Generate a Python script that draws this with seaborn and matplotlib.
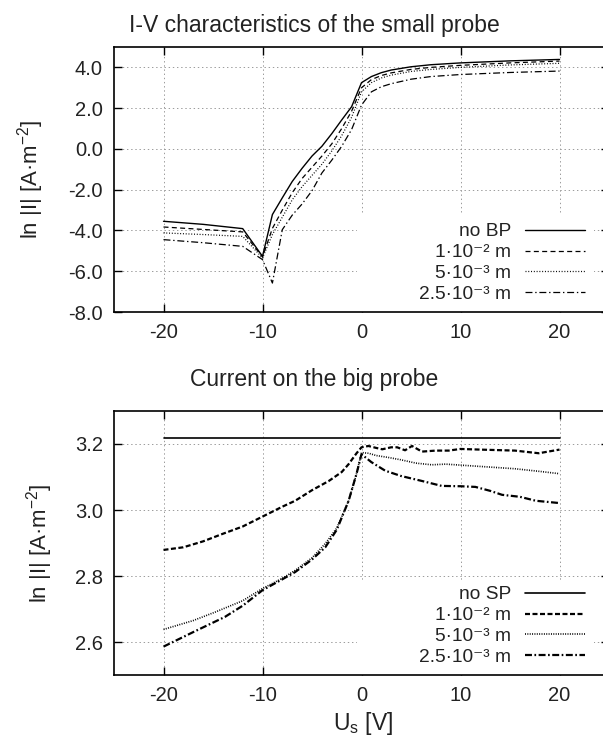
import matplotlib
matplotlib.use("Agg")
import matplotlib.pyplot as plt
import seaborn as sns
import numpy as np
from matplotlib.lines import Line2D
from matplotlib.patches import Rectangle
from matplotlib.ticker import FormatStrFormatter, FixedLocator

# ---------------- data: small probe I-V ----------------
V_top = [-20, -16, -12, -10, -9, -8, -7, -6, -5, -4, -3, -2, -1, 0, 1, 2, 3, 5, 7, 10, 15, 20]
top_noBP = [-3.55, -3.70, -3.91, -5.27, -3.22, -2.40, -1.60, -0.95, -0.35, 0.13, 0.75, 1.42, 2.07, 3.25,
            3.55, 3.74, 3.87, 4.03, 4.13, 4.22, 4.32, 4.39]
top_1e2 = [-3.83, -3.95, -4.07, -5.30, -3.90, -3.00, -2.15, -1.45, -0.90, -0.35, 0.25, 1.00, 1.85, 3.00,
           3.40, 3.60, 3.73, 3.90, 4.00, 4.10, 4.22, 4.31]
top_5e3 = [-4.12, -4.20, -4.29, -5.35, -4.20, -3.35, -2.50, -1.85, -1.30, -0.75, -0.10, 0.65, 1.55, 2.80,
           3.25, 3.48, 3.62, 3.80, 3.90, 4.00, 4.12, 4.20]
top_25e3 = [-4.45, -4.60, -4.78, -5.43, -6.58, -3.96, -3.25, -2.70, -2.05, -1.18, -0.55, 0.13, 0.95, 2.15,
            2.80, 3.05, 3.20, 3.42, 3.55, 3.65, 3.75, 3.82]

# ---------------- data: big probe current ----------------
V_noSP = [-20, 20]
bot_noSP = [3.217, 3.217]
V_b1 = [-20, -18, -16, -14, -12, -10, -8, -6.7, -5, -3.3, -2, -1.3, -0.5, 0, 0.7, 1.5, 2.1, 3, 3.6,
        4.4, 5.1, 6.1, 7.5, 8.8, 10, 12, 15.5, 17.9, 20]
bot_1e2 = [2.879, 2.887, 2.905, 2.928, 2.950, 2.980, 3.010, 3.028, 3.060, 3.088, 3.115, 3.139, 3.172,
           3.190, 3.194, 3.188, 3.184, 3.190, 3.190, 3.181, 3.194, 3.177, 3.180, 3.180, 3.185, 3.183,
           3.180, 3.172, 3.183]
V_b2 = [-20, -17, -14.75, -12, -10, -8, -6.7, -5, -3.66, -2.5, -1.3, -0.5, 0, 0.7, 1.5, 2.75, 4, 5.5,
        7.1, 8.5, 10.5, 13, 15.5, 18, 20]
bot_5e3 = [2.638, 2.665, 2.691, 2.725, 2.762, 2.793, 2.817, 2.855, 2.898, 2.945, 3.028, 3.110, 3.174,
           3.172, 3.165, 3.159, 3.152, 3.142, 3.137, 3.139, 3.135, 3.130, 3.125, 3.117, 3.110]
V_b3 = [-20, -17, -13.8, -12, -10, -8, -6.7, -5, -3.66, -2.5, -1.3, -0.5, 0, 1, 2.4, 4, 6.1, 8.1, 10,
        11.5, 13, 14.2, 16, 17.6, 20]
bot_25e3 = [2.586, 2.630, 2.676, 2.710, 2.757, 2.790, 2.812, 2.850, 2.887, 2.940, 3.028, 3.110, 3.169,
            3.145, 3.119, 3.103, 3.088, 3.073, 3.072, 3.070, 3.058, 3.046, 3.040, 3.028, 3.021]

top_labels = ["no BP", "1·10⁻² m", "5·10⁻³ m", "2.5·10⁻³ m"]
bot_labels = ["no SP", "1·10⁻² m", "5·10⁻³ m", "2.5·10⁻³ m"]
x_ticks = [-20, -10, 0, 10, 20]
top_yticks = [-8, -6, -4, -2, 0, 2, 4]
bot_yticks = [2.6, 2.8, 3.0, 3.2]

# ---------------- style ----------------
sns.set_style("ticks")
plt.rcParams["font.family"] = ["Liberation Sans", "DejaVu Sans"]
plt.rcParams["mathtext.fontset"] = "custom"
plt.rcParams["mathtext.rm"] = "Liberation Sans"
plt.rcParams["axes.unicode_minus"] = False
plt.rcParams["lines.scale_dashes"] = False

TXT = "#222222"
styles_top = [
    dict(linestyle="-", lw=1.0),
    dict(linestyle=(0, (3.6, 2.4)), lw=0.9),
    dict(linestyle=(0, (0.7, 1.3)), lw=0.9),
    dict(linestyle=(0, (5.0, 2.0, 1.0, 2.0)), lw=0.9),
]
styles_bot = [
    dict(linestyle="-", lw=1.2),
    dict(linestyle=(0, (3.6, 1.8)), lw=1.6),
    dict(linestyle=(0, (0.7, 1.0)), lw=1.2),
    dict(linestyle=(0, (5.0, 1.8, 1.2, 1.8)), lw=1.6),
]

fig = plt.figure(figsize=(6.03, 7.47), dpi=100)
ax1 = fig.add_axes([114 / 603, (747 - 312) / 747, 495 / 603, 265 / 747])
ax2 = fig.add_axes([114 / 603, (747 - 675) / 747, 495 / 603, 264 / 747])


def setup(ax, ylim, yticks):
    ax.set_xlim(-25, 25)
    ax.set_ylim(*ylim)
    ax.xaxis.set_major_locator(FixedLocator(x_ticks))
    ax.yaxis.set_major_locator(FixedLocator(yticks))
    ax.yaxis.set_major_formatter(FormatStrFormatter("%.1f"))
    ax.xaxis.set_major_formatter(FormatStrFormatter("%d"))
    ax.tick_params(direction="in", length=6, width=1.0, top=True, right=True,
                   labelsize=14.5, pad=8, colors="black", labelcolor=TXT)
    ax.set_axisbelow(True)
    ax.grid(True, color="#9a9a9a", linestyle=(0, (1, 2)), lw=0.7)
    for s in ax.spines.values():
        s.set_linewidth(1.2)
        s.set_color("black")


setup(ax1, (-8, 5), top_yticks)
setup(ax2, (2.5, 3.3), bot_yticks)

# white key boxes (gnuplot opaque key)
ax1.add_patch(Rectangle((243 / 495, 0), 237 / 495, 99 / 265, transform=ax1.transAxes,
                        facecolor="white", edgecolor="none", zorder=1))
ax2.add_patch(Rectangle((243 / 495, 0), 237 / 495, 93 / 264, transform=ax2.transAxes,
                        facecolor="white", edgecolor="none", zorder=1))

for ys, st in zip([top_noBP, top_1e2, top_5e3, top_25e3], styles_top):
    sns.lineplot(x=V_top, y=ys, ax=ax1, color="black", zorder=3, legend=False, **st)

for xs, ys, st in zip([V_noSP, V_b1, V_b2, V_b3], [bot_noSP, bot_1e2, bot_5e3, bot_25e3], styles_bot):
    sns.lineplot(x=xs, y=ys, ax=ax2, color="black", zorder=3, legend=False, **st)


def add_legend(ax, labels, styles, anchor):
    handles = [Line2D([], [], color="black", **st) for st in styles]
    leg = ax.legend(handles, labels, loc="lower right", bbox_to_anchor=anchor,
                    frameon=False, markerfirst=False, fontsize=13.8, handlelength=3.15,
                    handletextpad=0.7, labelspacing=0.18, borderpad=0, borderaxespad=0)
    for t in leg.get_texts():
        t.set_color(TXT)
    leg.set_zorder(5)


add_legend(ax1, top_labels, styles_top, (471 / 495, 9 / 265))
add_legend(ax2, bot_labels, styles_bot, (471 / 495, 9 / 264))

ylab = "ln |I| [A·m$^{\\mathregular{-2}}$]"
ax1.set_ylabel(ylab, fontsize=16, color=TXT, labelpad=16)
ax2.set_ylabel(ylab, fontsize=16, color=TXT, labelpad=14)
ax1.set_xlabel("")
ax2.set_xlabel("")

fig.text(314 / 603, 1 - 32 / 747, "I-V characteristics of the small probe", fontsize=16.5,
         ha="center", va="baseline", color=TXT)
fig.text(314 / 603, 1 - 386 / 747, "Current on the big probe", fontsize=16.5,
         ha="center", va="baseline", color=TXT)
fig.text(363 / 603, 1 - 730 / 747, "U$_{\\mathregular{s}}$ [V]", fontsize=16.5,
         ha="center", va="baseline", color=TXT)

fig.savefig("out.png", dpi=100)
